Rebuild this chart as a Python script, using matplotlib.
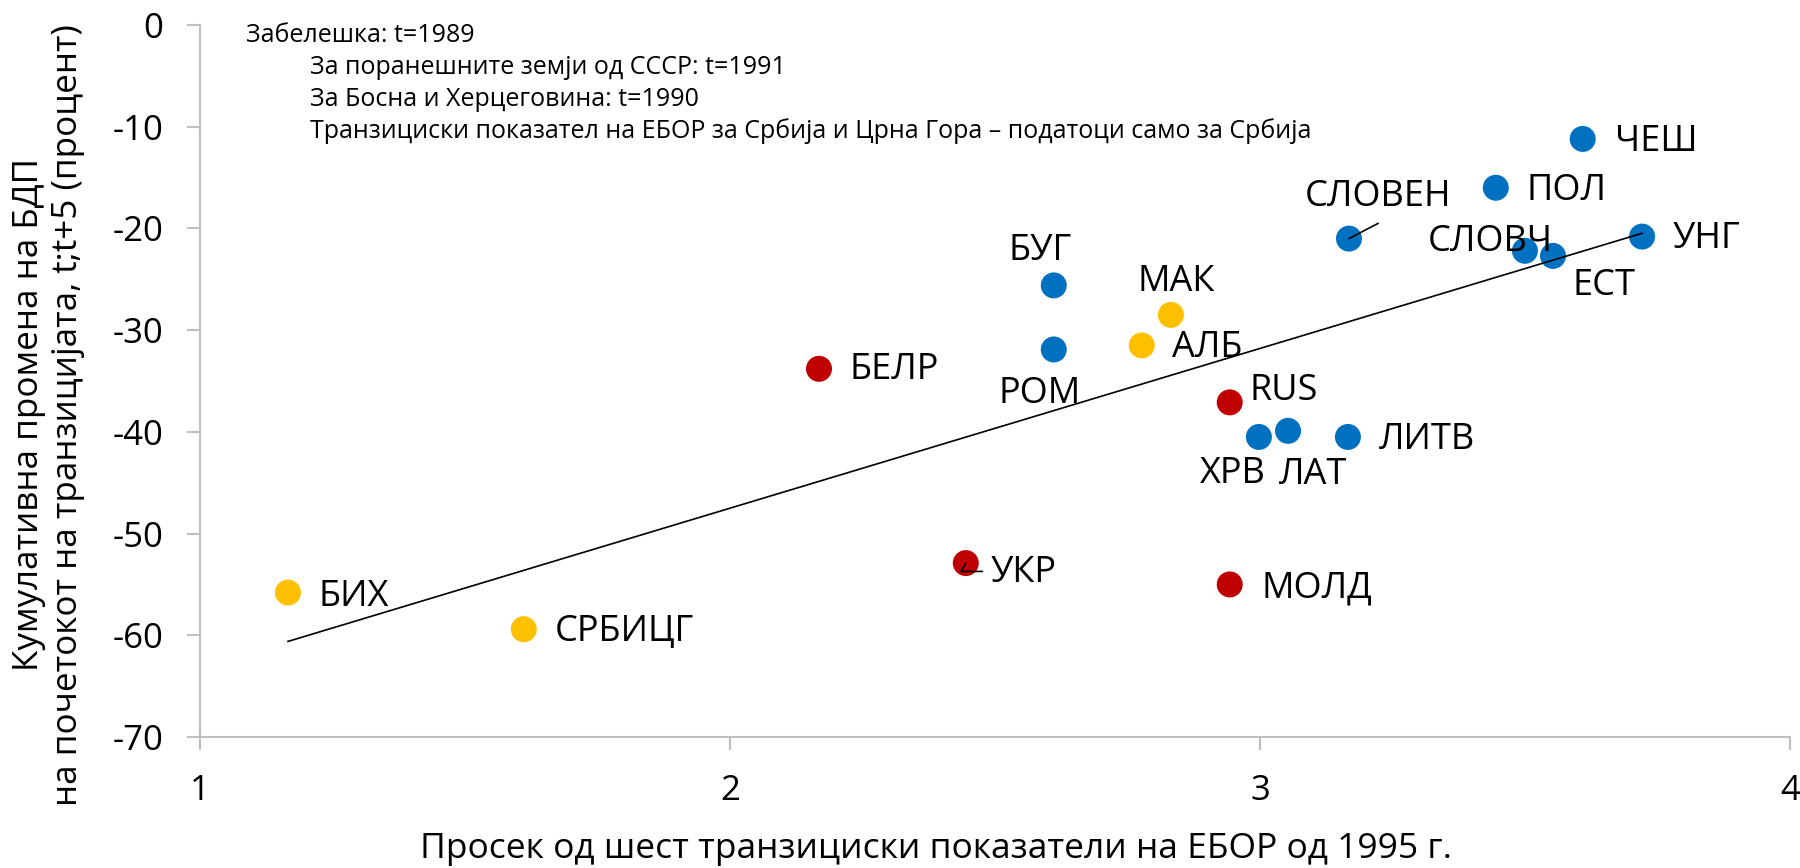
import matplotlib
matplotlib.use("Agg")
import matplotlib.pyplot as plt
import numpy as np

plt.rcParams['font.family'] = ['Open Sans', 'DejaVu Sans']

# ---- data ----
countries = ["ЧЕШ", "ПОЛ", "СЛОВЕН", "УНГ", "СЛОВЧ", "ЕСТ", "БУГ", "МАК", "АЛБ", "РОМ",
             "БЕЛР", "RUS", "ХРВ", "ЛАТ", "ЛИТВ", "УКР", "МОЛД", "БИХ", "СРБИЦГ"]
ebrd_index = [3.609, 3.445, 3.168, 3.721, 3.500, 3.553, 2.611, 2.832, 2.777, 2.611,
              2.168, 2.943, 2.998, 3.053, 3.166, 2.445, 2.943, 1.166, 1.611]
gdp_change = [-11.2, -16.0, -21.0, -20.8, -22.2, -22.7, -25.6, -28.5, -31.5, -31.9,
              -33.8, -37.1, -40.5, -39.9, -40.5, -52.9, -55.0, -55.8, -59.4]
groups = ["ce", "ce", "ce", "ce", "ce", "ce", "ce", "wb", "wb", "ce",
          "cis", "cis", "ce", "ce", "ce", "cis", "cis", "wb", "wb"]
group_colors = {"ce": "#0070C0", "cis": "#C00000", "wb": "#FFC000"}

x_ticks = [1, 2, 3, 4]
y_ticks = [0, -10, -20, -30, -40, -50, -60, -70]

note_lines = ["Забелешка: t=1989",
              "За поранешните земји од СССР: t=1991",
              "За Босна и Херцеговина: t=1990",
              "Транзициски показател на ЕБОР за Србија и Црна Гора – податоци само за Србија"]

# label placement: (dx, dy) in points, horizontal alignment
label_pos = {
    "ЧЕШ": (23, -2, "left"), "ПОЛ": (22, -2, "left"), "УНГ": (22, -2, "left"),
    "СЛОВЧ": (-25, 6, "center"), "ЕСТ": (37, -22, "center"), "СЛОВЕН": (21, 30, "center"),
    "БУГ": (-10, 25, "center"), "МАК": (4, 24, "center"), "АЛБ": (22, -2, "left"),
    "РОМ": (-10, -32, "center"), "RUS": (14, 8, "left"), "ХРВ": (-19, -27, "center"),
    "ЛАТ": (18, -32, "center"), "ЛИТВ": (22, -2, "left"), "БЕЛР": (22, -1, "left"),
    "БИХ": (22, -3, "left"), "СРБИЦГ": (22, -2, "left"), "УКР": (18, -7, "left"),
    "МОЛД": (23, -3, "left"),
}

fig = plt.figure(figsize=(18, 8.68), dpi=100)
ax = fig.add_axes([0.1111, 0.1509, 0.8833, 0.8203])

xs = np.array(ebrd_index)
ys = np.array(gdp_change)
cols = [group_colors[g] for g in groups]
ax.scatter(xs, ys, s=350, c=cols, edgecolors='none', zorder=2)

# linear trend
slope, intercept = np.polyfit(xs, ys, 1)
xl = np.array([xs.min(), xs.max()])
ax.plot(xl, slope * xl + intercept, color='black', lw=1.2, zorder=3)

for name, xv, yv in zip(countries, xs, ys):
    dx, dy, ha = label_pos[name]
    ax.annotate(name, (xv, yv), xytext=(dx, dy), textcoords='offset points',
                ha=ha, va='center', fontsize=26, color='black', zorder=4)

# leader lines
i = countries.index("СЛОВЕН")
ax.annotate("", (xs[i], ys[i]), xytext=(21, 11), textcoords='offset points',
            arrowprops=dict(arrowstyle='-', color='black', lw=1.2, shrinkA=0, shrinkB=0))
i = countries.index("УКР")
ax.annotate("", (xs[i], ys[i]), xytext=(12, -6), textcoords='offset points',
            arrowprops=dict(arrowstyle='-', color='black', lw=1.2, shrinkA=0, shrinkB=0,
                            connectionstyle='angle,angleA=0,angleB=60,rad=0'))

ax.set_xlim(1, 4)
ax.set_ylim(-70, 0)
ax.set_xticks(x_ticks)
ax.set_yticks(y_ticks)
ax.set_xticklabels([str(v) for v in x_ticks])
ax.set_yticklabels([str(v) for v in y_ticks])

for s in ['top', 'right']:
    ax.spines[s].set_visible(False)
for s in ['left', 'bottom']:
    ax.spines[s].set_color('#BFBFBF')
    ax.spines[s].set_linewidth(1.5)
ax.tick_params(axis='both', colors='#BFBFBF', length=9.5, width=1.5, labelsize=25,
               labelcolor='black')
ax.tick_params(axis='x', pad=17)
ax.tick_params(axis='y', pad=17)

fig.text(0.52, 1 - 858 / 868, "Просек од шест транзициски показатели на ЕБОР од 1995 г.",
         ha='center', va='baseline', fontsize=25.5)
fig.text(0.027, 0.522, "Кумулативна промена на БДП\nна почетокот на транзицијата, t;t+5 (процент)",
         rotation=90, ha='center', va='center', multialignment='center', fontsize=25.2,
         linespacing=1.2)

note_x = [246 / 1800, 310 / 1800, 310 / 1800, 310 / 1800]
note_y = [1 - 35 / 868, 1 - 67 / 868, 1 - 99 / 868, 1 - 131 / 868]
for t, nx, ny in zip(note_lines, note_x, note_y):
    fig.text(nx, ny, t, ha='left', va='center', fontsize=18)

fig.savefig("out.png", dpi=100, facecolor='white')
